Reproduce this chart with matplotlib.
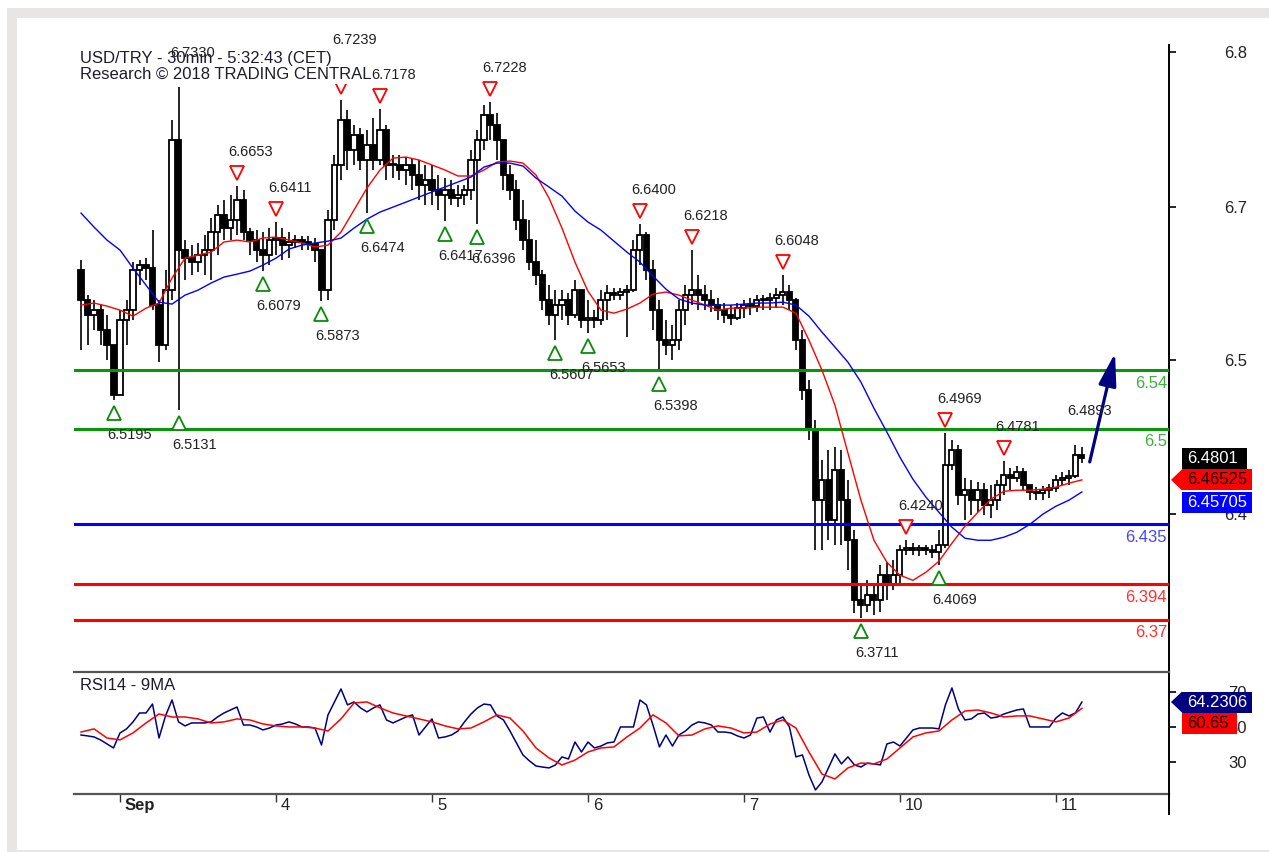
import numpy as np
import matplotlib
matplotlib.use('Agg')
import matplotlib.pyplot as plt
from matplotlib.patches import Rectangle, Polygon
from matplotlib.lines import Line2D
from matplotlib.transforms import Affine2D, ScaledTranslation, offset_copy

plt.rcParams['font.family'] = ['Liberation Sans', 'DejaVu Sans']

first_open = 6.6083
close = [
    6.5878, 6.5776, 6.5810, 6.5673, 6.5571, 6.5230, 6.5742, 6.5810, 6.6083, 6.6117,
    6.6096, 6.5844, 6.5571, 6.5946, 6.6969, 6.6219, 6.6164, 6.6137, 6.6185, 6.6219,
    6.6342, 6.6458, 6.6369, 6.6424, 6.6560, 6.6342, 6.6287, 6.6219, 6.6185, 6.6287,
    6.6301, 6.6253, 6.6273, 6.6287, 6.6273, 6.6260, 6.6219, 6.5946, 6.6424, 6.6799,
    6.7106, 6.6901, 6.7003, 6.6833, 6.6935, 6.6833, 6.7037, 6.6799, 6.6799, 6.6765,
    6.6799, 6.6731, 6.6662, 6.6696, 6.6628, 6.6594, 6.6628, 6.6574, 6.6594, 6.6628,
    6.6833, 6.6969, 6.7140, 6.7072, 6.6969, 6.6731, 6.6628, 6.6424, 6.6287, 6.6137,
    6.6049, 6.5878, 6.5776, 6.5844, 6.5878, 6.5776, 6.5946, 6.5742, 6.5755, 6.5742,
    6.5878, 6.5926, 6.5912, 6.5933, 6.5946, 6.6219, 6.6321, 6.6083, 6.5810, 6.5605,
    6.5571, 6.5605, 6.5810, 6.5912, 6.5946, 6.5912, 6.5878, 6.5844, 6.5810, 6.5776,
    6.5755, 6.5823, 6.5844, 6.5837, 6.5878, 6.5878, 6.5892, 6.5912, 6.5933, 6.5878,
    6.5605, 6.5264, 6.4991, 6.4514, 6.4650, 6.4378, 6.4719, 6.4514, 6.4241, 6.3832,
    6.3798, 6.3866, 6.3832, 6.4003, 6.3934, 6.4003, 6.4173, 6.4187, 6.4173, 6.4187,
    6.4173, 6.4159, 6.4207, 6.4753, 6.4855, 6.4548, 6.4582, 6.4514, 6.4582, 6.4480,
    6.4514, 6.4616, 6.4684, 6.4664, 6.4705, 6.4616, 6.4569, 6.4562, 6.4582, 6.4596,
    6.4650, 6.4664, 6.4677, 6.4821, 6.4801,
]
high = [
    6.6151, 6.5912, 6.5878, 6.5844, 6.5776, 6.5435, 6.5810, 6.5878, 6.6137, 6.6151,
    6.6164, 6.6355, 6.5878, 6.6083, 6.7106, 6.7330, 6.6287, 6.6253, 6.6267, 6.6321,
    6.6437, 6.6526, 6.6560, 6.6594, 6.6653, 6.6628, 6.6369, 6.6355, 6.6342, 6.6369,
    6.6411, 6.6369, 6.6342, 6.6321, 6.6314, 6.6314, 6.6301, 6.6185, 6.6492, 6.6867,
    6.7239, 6.7174, 6.7072, 6.7051, 6.7037, 6.7119, 6.7178, 6.7072, 6.6867, 6.6867,
    6.6853, 6.6846, 6.6833, 6.6799, 6.6799, 6.6731, 6.6710, 6.6696, 6.6662, 6.6662,
    6.6901, 6.7037, 6.7208, 6.7228, 6.7153, 6.6969, 6.6799, 6.6696, 6.6560, 6.6424,
    6.6287, 6.6083, 6.5980, 6.5946, 6.5946, 6.5926, 6.6014, 6.5946, 6.5878, 6.5810,
    6.5946, 6.5980, 6.5960, 6.5960, 6.5980, 6.6287, 6.6400, 6.6342, 6.6151, 6.5878,
    6.5742, 6.5708, 6.5878, 6.5980, 6.6218, 6.6049, 6.5980, 6.5946, 6.5892, 6.5858,
    6.5844, 6.5858, 6.5878, 6.5892, 6.5912, 6.5912, 6.5926, 6.5960, 6.6048, 6.5980,
    6.5892, 6.5673, 6.5332, 6.5060, 6.4787, 6.4855, 6.4875, 6.4855, 6.4650, 6.4310,
    6.3934, 6.3968, 6.3934, 6.4071, 6.4091, 6.4105, 6.4207, 6.4240, 6.4221, 6.4207,
    6.4207, 6.4207, 6.4310, 6.4969, 6.4923, 6.4889, 6.4664, 6.4650, 6.4637, 6.4630,
    6.4616, 6.4650, 6.4781, 6.4732, 6.4746, 6.4732, 6.4616, 6.4603, 6.4609, 6.4623,
    6.4684, 6.4705, 6.4719, 6.4893, 6.4875,
]
low = [
    6.5537, 6.5571, 6.5673, 6.5571, 6.5469, 6.5195, 6.5230, 6.5571, 6.5742, 6.5980,
    6.6014, 6.5810, 6.5455, 6.5537, 6.5878, 6.5131, 6.6014, 6.6049, 6.6069, 6.6049,
    6.6014, 6.6185, 6.6287, 6.6287, 6.6321, 6.6287, 6.6185, 6.6137, 6.6079, 6.6117,
    6.6185, 6.6151, 6.6164, 6.6233, 6.6219, 6.6219, 6.6137, 6.5873, 6.5878, 6.6355,
    6.6696, 6.6765, 6.6799, 6.6765, 6.6474, 6.6765, 6.6799, 6.6696, 6.6710, 6.6696,
    6.6662, 6.6628, 6.6560, 6.6526, 6.6526, 6.6492, 6.6417, 6.6526, 6.6512, 6.6526,
    6.6560, 6.6396, 6.6901, 6.6969, 6.6833, 6.6628, 6.6560, 6.6355, 6.6219, 6.6083,
    6.5980, 6.5810, 6.5708, 6.5607, 6.5742, 6.5708, 6.5755, 6.5687, 6.5653, 6.5687,
    6.5708, 6.5742, 6.5878, 6.5878, 6.5626, 6.5933, 6.6117, 6.6014, 6.5673, 6.5398,
    6.5503, 6.5469, 6.5537, 6.5708, 6.5844, 6.5810, 6.5810, 6.5796, 6.5742, 6.5721,
    6.5708, 6.5742, 6.5755, 6.5776, 6.5796, 6.5810, 6.5810, 6.5823, 6.5844, 6.5810,
    6.5537, 6.5196, 6.4923, 6.4173, 6.4173, 6.4241, 6.4207, 6.4207, 6.4037, 6.3743,
    6.3711, 6.3750, 6.3730, 6.3750, 6.3832, 6.3900, 6.3934, 6.4139, 6.4139, 6.4132,
    6.4139, 6.4118, 6.4069, 6.4187, 6.4719, 6.4480, 6.4378, 6.4411, 6.4432, 6.4411,
    6.4391, 6.4446, 6.4548, 6.4582, 6.4637, 6.4582, 6.4514, 6.4514, 6.4514, 6.4528,
    6.4569, 6.4616, 6.4616, 6.4664, 6.4766,
]

# price moving averages, one reading every 2 bars
ma_red = [
    6.5844, 6.5858, 6.5837, 6.5810, 6.5769, 6.5823, 6.5858, 6.6028, 6.6164, 6.6185,
    6.6205, 6.6274, 6.6287, 6.6274, 6.6301, 6.6308, 6.6287, 6.6267, 6.6240, 6.6253,
    6.6342, 6.6492, 6.6642, 6.6765, 6.6846, 6.6853, 6.6833, 6.6799, 6.6765, 6.6724,
    6.6724, 6.6765, 6.6819, 6.6826, 6.6812, 6.6731, 6.6574, 6.6369, 6.6137, 6.5939,
    6.5810, 6.5789, 6.5817, 6.5858, 6.5919, 6.5933, 6.5912, 6.5878, 6.5844, 6.5810,
    6.5823, 6.5823, 6.5830, 6.5830, 6.5830, 6.5789, 6.5605, 6.5401, 6.5162, 6.4835,
    6.4514, 6.4241, 6.4091, 6.4003, 6.3968, 6.4023, 6.4098, 6.4221, 6.4337, 6.4432,
    6.4521, 6.4575, 6.4582, 6.4582, 6.4589, 6.4603, 6.4630, 6.46525,
]
ma_blue = [
    6.6471, 6.6376, 6.6287, 6.6219, 6.6096, 6.5980, 6.5864, 6.5851, 6.5912, 6.5946,
    6.5994, 6.6035, 6.6055, 6.6076, 6.6117, 6.6164, 6.6226, 6.6253, 6.6267, 6.6280,
    6.6301, 6.6369, 6.6430, 6.6478, 6.6512, 6.6546, 6.6581, 6.6615, 6.6649, 6.6683,
    6.6717, 6.6785, 6.6812, 6.6812, 6.6792, 6.6710, 6.6649, 6.6587, 6.6485, 6.6410,
    6.6355, 6.6280, 6.6205, 6.6137, 6.6042, 6.5953, 6.5885, 6.5858, 6.5844, 6.5844,
    6.5844, 6.5851, 6.5858, 6.5858, 6.5864, 6.5844, 6.5769, 6.5660, 6.5558, 6.5455,
    6.5319, 6.5141, 6.4978, 6.4807, 6.4657, 6.4535, 6.4432, 6.4330, 6.4255, 6.4241,
    6.4241, 6.4262, 6.4296, 6.4350, 6.4419, 6.4473, 6.4514, 6.45705,
]

# RSI14 per bar, its 9MA every 2 bars
rsi = [
    45.4, 44.9, 44.3, 42.6, 40.3, 38.0, 46.6, 48.9, 52.9, 58.0,
    58.0, 63.1, 43.7, 56.3, 65.4, 52.9, 50.6, 52.3, 52.3, 52.3,
    52.9, 55.7, 58.0, 59.7, 61.4, 51.1, 51.1, 50.0, 48.3, 49.4,
    51.1, 51.7, 52.9, 51.7, 50.0, 50.0, 49.4, 39.7, 56.9, 64.3,
    71.7, 62.6, 64.3, 60.9, 58.6, 60.9, 62.6, 54.0, 52.3, 54.0,
    55.7, 56.9, 45.4, 50.0, 54.6, 43.7, 44.3, 45.4, 47.7, 52.9,
    57.4, 60.9, 63.1, 62.6, 56.3, 54.0, 47.7, 40.9, 34.0, 30.6,
    27.7, 27.1, 26.6, 28.3, 32.9, 31.7, 41.4, 35.7, 41.4, 38.0,
    39.1, 40.9, 41.4, 50.0, 50.0, 50.0, 65.4, 62.6, 51.1, 38.6,
    45.4, 39.1, 45.4, 47.7, 51.1, 52.9, 52.3, 51.1, 47.1, 47.1,
    46.6, 44.9, 43.7, 45.4, 55.1, 55.7, 47.1, 54.0, 55.7, 50.0,
    32.9, 34.0, 22.6, 14.0, 18.6, 26.6, 34.6, 28.9, 32.9, 28.3,
    27.1, 29.4, 28.9, 28.3, 40.3, 41.4, 39.1, 43.7, 48.3, 49.4,
    49.4, 49.4, 48.9, 62.6, 72.3, 60.3, 54.0, 54.6, 57.4, 58.0,
    55.1, 55.7, 57.4, 58.6, 59.7, 60.3, 50.0, 50.0, 50.0, 50.0,
    55.1, 58.0, 56.3, 58.0, 64.23,
]
rsi_ma = [
    47.1, 48.9, 43.7, 42.6, 46.6, 52.3, 57.4, 55.7, 55.7, 54.6,
    52.3, 52.9, 54.6, 54.0, 51.7, 50.6, 50.0, 50.0, 49.4, 47.7,
    54.6, 63.7, 64.3, 60.9, 58.0, 56.3, 54.6, 52.9, 50.6, 48.9,
    49.4, 52.9, 56.9, 55.1, 47.7, 38.0, 32.3, 28.3, 31.1, 35.7,
    38.0, 38.6, 44.3, 49.4, 56.9, 52.3, 44.9, 45.4, 48.9, 50.6,
    49.4, 46.6, 47.1, 51.7, 54.0, 49.4, 35.7, 23.1, 20.3, 26.6,
    29.4, 28.9, 31.7, 38.0, 44.3, 46.6, 47.7, 54.0, 59.1, 59.7,
    58.0, 55.7, 56.3, 56.3, 54.6, 52.9, 55.1, 60.65,
]

# swing points marked on the chart
peak_hours = [9, 18, 24, 34, 40, 57, 80, 88, 102, 121, 127, 136, 147]
peak_values = [6.7330, 6.6653, 6.6411, 6.7239, 6.7178, 6.7228, 6.6400,
               6.6218, 6.6048, 6.4240, 6.4969, 6.4781, 6.4893]
trough_hours = [-1, 9, 22, 31, 38, 50, 55, 67, 72, 83, 114, 126]
trough_values = [6.5195, 6.5131, 6.6079, 6.5873, 6.6474, 6.6417, 6.6396,
                 6.5607, 6.5653, 6.5398, 6.3711, 6.4069]

levels = [6.54, 6.5, 6.435, 6.394, 6.37]
level_labels = ['6.54', '6.5', '6.435', '6.394', '6.37']

last_price = 6.4801
red_last = 6.46525
blue_last = 6.45705
rsi_last = 64.2306
rsi_ma_last = 60.65

arrow_from = (149.2, 6.4775)
arrow_to = (153.1, 6.5517)

day_ticks = [0, 24, 48, 72, 96, 120, 144]
day_labels = ['Sep', '4', '5', '6', '7', '10', '11']
price_ticks = [6.757, 6.651, 6.547, 6.442]
price_tick_labels = ['6.8', '6.7', '6.5', '6.4']
rsi_ticks = [70, 50, 30]

W, H = 1269, 852
fig = plt.figure(figsize=(W / 100, H / 100), dpi=100)
fig.patches.extend([
    Rectangle((7 / W, 0), 1, 844 / H, transform=fig.transFigure, fc='#e8e6e4', ec='none', zorder=-10),
    Rectangle((17 / W, 2 / H), 1, 832 / H, transform=fig.transFigure, fc='white', ec='none', zorder=-9),
])

ax = fig.add_axes([74 / W, 180 / H, 1095 / W, 627 / H])
rx = fig.add_axes([74 / W, 58 / H, 1095 / W, 122 / H])
for a in (ax, rx):
    a.patch.set_visible(False)
    a.set_xlim(-7.08, 161.4)
    a.spines['left'].set_visible(False)
    a.spines['right'].set_linewidth(1.4)
    a.yaxis.tick_right()
    a.tick_params(axis='y', direction='out', length=5, width=1.2, pad=51,
                  labelsize=12, labelcolor='#222222')
ax.set_ylim(6.3343, 6.7617)
for s in ('top', 'bottom'):
    ax.spines[s].set_visible(False)
    rx.spines[s].set_color('#555555')
    rx.spines[s].set_linewidth(1.6)
ax.tick_params(axis='x', bottom=False, labelbottom=False)
ax.set_yticks(price_ticks, price_tick_labels, ha='right')

# candles
hrs = np.arange(-6, -6 + len(close))
c = np.array(close)
o = np.r_[first_open, c[:-1]]
hi = np.maximum(np.array(high), np.maximum(o, c))
lo = np.minimum(np.array(low), np.minimum(o, c))
up = c >= o
ax.vlines(hrs, lo, hi, color='black', lw=1.2, zorder=2)
bot = np.minimum(o, c)
tall = np.maximum(np.abs(c - o), 0.0008)
ax.bar(hrs[up], tall[up], bottom=bot[up], width=0.78, fc='white', ec='black', lw=1.3, zorder=2)
ax.bar(hrs[~up], tall[~up], bottom=bot[~up], width=0.78, fc='black', ec='black', lw=1.3, zorder=2)

level_colors = ['#0a960a', '#0a960a', '#0000ff', '#ff0000', '#ff0000']
level_text_colors = ['#3fae3f', '#3fae3f', '#4444ff', '#ff3030', '#ff3030']
for lv, lab, lc, tc in zip(levels, level_labels, level_colors, level_text_colors):
    ax.axhline(lv, color=lc, lw=2.2, zorder=3)
    ax.annotate(lab, (1, lv), xycoords=ax.get_yaxis_transform(), xytext=(-2, -13),
                textcoords='offset pixels', ha='right', va='center', fontsize=12, color=tc, zorder=3)

ma_hrs = np.arange(-6, -6 + 2 * len(ma_red), 2)
ax.plot(ma_hrs, ma_red, color='#ff0000', lw=1.0, zorder=4)
ax.plot(ma_hrs, ma_blue, color='#0000ff', lw=1.0, zorder=4)

# swing markers (the last swing is still open, no marker)
ax.plot(peak_hours[:-1], peak_values[:-1], ls='none', marker='v', ms=10, mfc='white', mec='#ff0000',
        mew=1.3, zorder=5, transform=offset_copy(ax.transData, fig, x=0, y=13, units='dots'))
ax.plot(trough_hours, trough_values, ls='none', marker='^', ms=10, mfc='white', mec='#0a8a0a',
        mew=1.3, zorder=5, transform=offset_copy(ax.transData, fig, x=0, y=-13, units='dots'))
lift = {34: 60}
for hr, v in zip(peak_hours, peak_values):
    ax.annotate(f'{v:.4f}', (hr, v), xytext=(14, lift.get(hr, 34)), textcoords='offset pixels',
                ha='center', va='center', fontsize=10.5, color='#222222', zorder=7, annotation_clip=False)
for hr, v in zip(trough_hours, trough_values):
    ax.annotate(f'{v:.4f}', (hr, v), xytext=(16, -35), textcoords='offset pixels',
                ha='center', va='center', fontsize=10.5, color='#222222', zorder=7, annotation_clip=False)

ax.annotate('', xy=arrow_to, xytext=arrow_from, annotation_clip=False,
            arrowprops=dict(arrowstyle='-|>,head_length=1.1,head_width=0.3', mutation_scale=18,
                            color='#000080', lw=2.3, shrinkA=0, shrinkB=0))

ax.text(6 / 1095, 1 - 21.5 / 627, 'USD/TRY - 30min - 5:32:43 (CET)\nResearch © 2018 TRADING CENTRAL',
        transform=ax.transAxes, ha='left', va='center', fontsize=12, color='#1c1c2c', linespacing=1.14,
        zorder=6, bbox=dict(boxstyle='square,pad=0.1', fc='white', ec='none'))

# RSI panel
rx.set_ylim(11.7, 81.4)
rx.set_yticks(rsi_ticks, [str(t) for t in rsi_ticks], ha='right')
rx.plot(hrs, rsi, color='#000080', lw=1.1, zorder=3)
rx.plot(ma_hrs, rsi_ma, color='#ff0000', lw=1.1, zorder=4)
rx.text(6 / 1095, 1 - 13 / 122, 'RSI14 - 9MA', transform=rx.transAxes, ha='left', va='center',
        fontsize=12, color='#1c1c2c')
rx.set_xticks(day_ticks)
rx.tick_params(axis='x', direction='out', length=6, width=1, color='#333333', labelbottom=False)
day_tr = offset_copy(rx.get_xaxis_transform(), fig, x=5, y=-4, units='dots')
for t, lab in zip(day_ticks, day_labels):
    rx.text(t, 0, lab, transform=day_tr, ha='left', va='top', fontsize=12, color='#222222',
            fontweight='bold' if lab == 'Sep' else 'normal')

fig.add_artist(Line2D([1169 / W] * 2, [38 / H, 58 / H], transform=fig.transFigure, color='black', lw=1.4))


def value_tag(axis, value, text, fc, tc, width, shift=0, pointer=False):
    tr = Affine2D().translate(0, shift) + ScaledTranslation(1, value, axis.get_yaxis_transform())
    fig.add_artist(Rectangle((13, -10.5), width, 21, transform=tr, fc=fc, ec='none', zorder=5))
    if pointer:
        fig.add_artist(Polygon([(2, 0), (13, 10.5), (13, -10.5)], closed=True, transform=tr,
                               fc=fc, ec='none', zorder=5))
    fig.text(18, 0, text, transform=tr, ha='left', va='center', fontsize=12, color=tc, zorder=6)


value_tag(ax, last_price, f'{last_price:.4f}', 'black', 'white', 65)
value_tag(ax, red_last, f'{red_last:.5f}', '#ff0000', 'black', 70, pointer=True)
value_tag(ax, blue_last, f'{blue_last:.5f}', '#0000ff', 'white', 70, shift=-11)
value_tag(rx, rsi_last, f'{rsi_last:.4f}', '#000080', 'white', 70, pointer=True)
value_tag(rx, rsi_ma_last, f'{rsi_ma_last:.2f}', '#ff0000', 'black', 55, shift=-15)

fig.savefig('out.png', dpi=100)
